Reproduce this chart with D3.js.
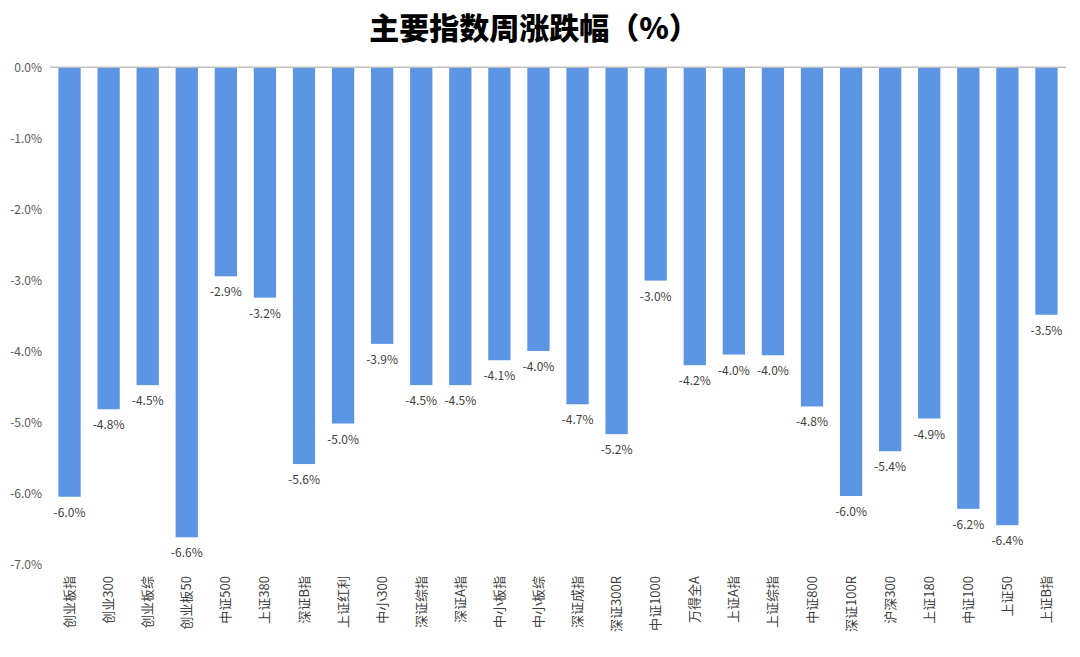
<!DOCTYPE html>
<html>
<head>
<meta charset="utf-8">
<script src="https://cdn.jsdelivr.net/npm/d3@7"></script>
<style>
  body { margin: 0; background: #fff; }
  svg { display: block; font-family: "Noto Sans CJK SC", "Noto Sans", sans-serif; }
</style>
</head>
<body>
<div class="content"></div>
<script>
const w = 1080;
const h = 657;

// index names, left to right
const names = ['创业板指', '创业300', '创业板综', '创业板50', '中证500', '上证380', '深证B指', '上证红利',
	'中小300', '深证综指', '深证A指', '中小板指', '中小板综', '深证成指', '深证300R', '中证1000',
	'万得全A', '上证A指', '上证综指', '中证800', '深证100R', '沪深300', '上证180', '中证100', '上证50', '上证B指'];

// weekly change, %
const changes = [-6.04, -4.81, -4.47, -6.61, -2.94, -3.24, -5.58, -5.01,
	-3.89, -4.47, -4.47, -4.12, -3.99, -4.74, -5.16, -3.0,
	-4.19, -4.04, -4.05, -4.77, -6.03, -5.4, -4.94, -6.21, -6.44, -3.48];

const yTicks = [0, -1, -2, -3, -4, -5, -6, -7];

const dataset = names.map((n, i) => ({ name: n, value: changes[i] }));

// plain hyphen, not the unicode minus d3.format gives
const pct = (v) => v.toFixed(1) + '%';

const svg = d3.select('.content').append('svg')
	.attr('width', w)
	.attr('height', h);

svg.append('text')
	.attr('x', 534)
	.attr('y', 39)
	.attr('text-anchor', 'middle')
	.style('font-size', '30px')
	.style('font-weight', 900)
	.attr('fill', '#000')
	.text('主要指数周涨跌幅（%）');

const xScale = d3.scaleBand()
	.domain(names)
	.range([50, 1066])
	.paddingInner(0.43)
	.paddingOuter(0.215);

const yScale = d3.scaleLinear()
	.domain([-7, 0])
	.range([565, 67.3]);

// y axis labels only, no line
const yAxis = d3.axisLeft(yScale)
	.tickValues(yTicks)
	.tickSize(0)
	.tickPadding(0)
	.tickFormat(pct);

svg.append('g')
	.attr('id', 'y-axis')
	.attr('transform', 'translate(42,0)')
	.call(yAxis)
	.call((g) => g.select('.domain').remove())
	.call((g) => g.selectAll('text')
		.attr('fill', '#595959')
		.style('font-size', '12px')
		.style('font-family', '"Noto Sans CJK SC", sans-serif'));

svg.selectAll('rect.bar')
	.data(dataset)
	.enter()
	.append('rect')
	.attr('class', 'bar')
	.attr('x', (d) => xScale(d.name))
	.attr('y', yScale(0))
	.attr('width', xScale.bandwidth())
	.attr('height', (d) => yScale(d.value) - yScale(0))
	.attr('fill', '#5b95e3');

// zero line
svg.append('line')
	.attr('x1', 50)
	.attr('x2', 1066)
	.attr('y1', yScale(0))
	.attr('y2', yScale(0))
	.attr('stroke', '#bfbfbf')
	.attr('stroke-width', 1.5);

svg.selectAll('text.val')
	.data(dataset)
	.enter()
	.append('text')
	.attr('class', 'val')
	.attr('x', (d) => xScale(d.name) + xScale.bandwidth() / 2)
	.attr('y', (d) => yScale(d.value) + 20)
	.attr('text-anchor', 'middle')
	.attr('fill', '#404040')
	.style('font-size', '12px')
	.text((d) => pct(d.value));

// category labels, rotated
const xAxis = d3.axisBottom(xScale)
	.tickSize(0)
	.tickPadding(0);

svg.append('g')
	.attr('id', 'x-axis')
	.attr('transform', 'translate(0,576)')
	.call(xAxis)
	.call((g) => g.select('.domain').remove())
	.call((g) => g.selectAll('text')
		.attr('transform', 'rotate(-90)')
		.attr('x', 0)
		.attr('y', 0)
		.attr('dy', '0.35em')
		.attr('text-anchor', 'end')
		.attr('fill', '#404040')
		.style('font-size', '13px')
		.style('font-family', '"Noto Sans CJK SC", sans-serif'));
</script>
</body>
</html>
